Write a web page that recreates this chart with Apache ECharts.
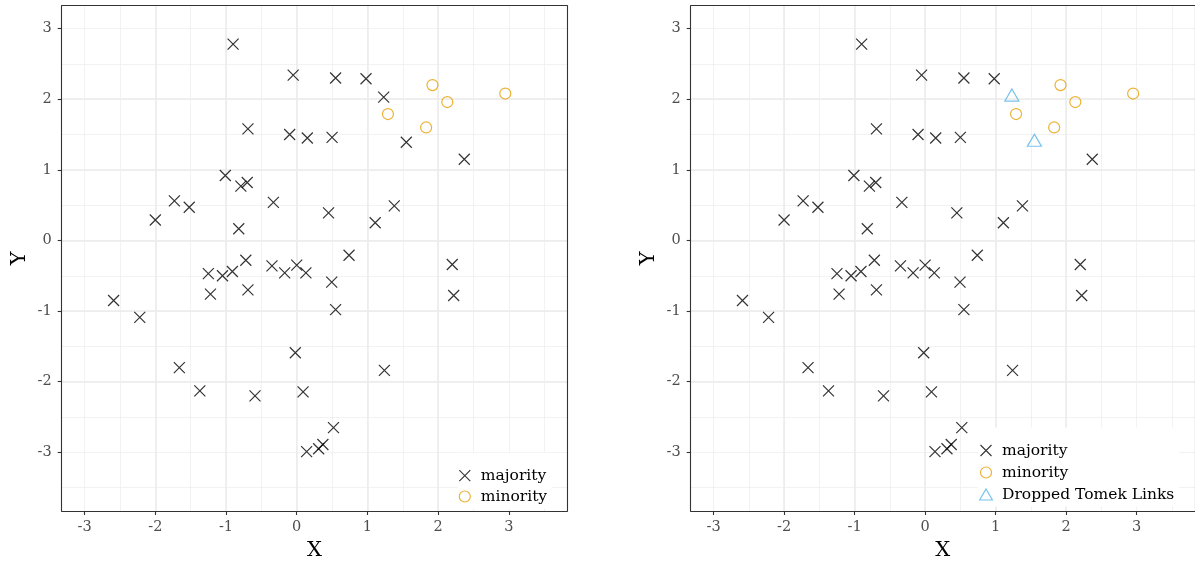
<!DOCTYPE html>
<html><head><meta charset="utf-8">
<script src="https://cdn.jsdelivr.net/npm/echarts@6/dist/echarts.min.js"></script>
<style>html,body{margin:0;padding:0;background:#fff}#c{width:1195px;height:566px}</style>
</head><body><div id="c"></div>
<script>
// ---- data ----
const majorityX = [-0.90,-0.05,0.55,0.98,1.23,-0.69,-0.10,0.15,0.50,1.55,2.37,-1.01,-0.79,-0.70,-1.73,-1.52,-2.00,-0.33,-0.82,0.45,1.11,1.38,0.74,-0.72,-0.35,-0.17,0.00,0.13,2.20,2.22,0.495,0.55,-1.25,-1.05,-0.91,-1.22,-0.69,-2.59,-2.22,-1.66,-1.37,-0.59,-0.02,0.09,1.24,0.52,0.14,0.31,0.37];
const majorityY = [2.78,2.34,2.30,2.29,2.03,1.58,1.50,1.45,1.46,1.39,1.15,0.92,0.77,0.82,0.56,0.47,0.29,0.54,0.165,0.39,0.25,0.49,-0.21,-0.28,-0.36,-0.46,-0.35,-0.46,-0.34,-0.78,-0.59,-0.98,-0.47,-0.50,-0.44,-0.76,-0.70,-0.85,-1.09,-1.80,-2.13,-2.20,-1.59,-2.145,-1.84,-2.65,-2.99,-2.95,-2.89];
const minorityX = [1.92,2.13,2.95,1.29,1.83];
const minorityY = [2.20,1.96,2.08,1.79,1.60];
const tomekX = [1.23,1.55];
const tomekY = [2.03,1.39];
const tickValues = [-3,-2,-1,0,1,2,3];
const xRange = [-3.324,3.827];
const yRange = [-3.831,3.324];
const legendLeft = ['majority','minority'];
const legendRight = ['majority','minority','Dropped Tomek Links'];

// ---- build ----
const FONT = 'DejaVu Serif';
const pairs = (xs, ys) => xs.map((x,i)=>[x, ys[i]]);
const majAll = pairs(majorityX, majorityY);
const tomek = pairs(tomekX, tomekY);
const majKept = majAll.filter(p => !tomek.some(t => t[0]===p[0] && t[1]===p[1]));
const minAll = pairs(minorityX, minorityY);

const CROSS = 'path://M0,0L10,10M0,10L10,0';
const TRI = 'path://M7,0L14,12L0,12Z';
const BORDER = {color:'#333333', width:1.1};

function xAxes(gi){
  return [
    {type:'value', gridIndex:gi, position:'top', min:xRange[0], max:xRange[1], minInterval:0.5, maxInterval:0.5, splitNumber:14,
     axisLine:{show:true, onZero:false, lineStyle:BORDER}, axisTick:{show:false}, axisLabel:{show:false},
     splitLine:{show:true, showMinLine:false, showMaxLine:false, lineStyle:{color:'#ececec', width:0.7}}},
    {type:'value', gridIndex:gi, position:'bottom', min:xRange[0], max:xRange[1], minInterval:1, maxInterval:1, splitNumber:7,
     axisLine:{show:true, onZero:false, lineStyle:BORDER},
     axisTick:{show:true, customValues:tickValues, length:4, lineStyle:BORDER},
     axisLabel:{customValues:tickValues, color:'#4d4d4d', fontFamily:FONT, fontSize:14.5, margin:9},
     splitLine:{show:true, showMinLine:false, showMaxLine:false, lineStyle:{color:'#ebebeb', width:1.5}},
     name:'X', nameLocation:'middle', nameGap:29, nameTextStyle:{fontFamily:FONT, fontSize:21, color:'#000'}}
  ];
}
function yAxes(gi){
  return [
    {type:'value', gridIndex:gi, position:'right', min:yRange[0], max:yRange[1], minInterval:0.5, maxInterval:0.5, splitNumber:14,
     axisLine:{show:true, onZero:false, lineStyle:BORDER}, axisTick:{show:false}, axisLabel:{show:false},
     splitLine:{show:true, showMinLine:false, showMaxLine:false, lineStyle:{color:'#ececec', width:0.7}}},
    {type:'value', gridIndex:gi, position:'left', min:yRange[0], max:yRange[1], minInterval:1, maxInterval:1, splitNumber:7,
     axisLine:{show:true, onZero:false, lineStyle:BORDER},
     axisTick:{show:true, customValues:tickValues, length:4, lineStyle:BORDER},
     axisLabel:{customValues:tickValues, color:'#4d4d4d', fontFamily:FONT, fontSize:14.5, margin:10},
     splitLine:{show:true, showMinLine:false, showMaxLine:false, lineStyle:{color:'#ebebeb', width:1.5}},
     name:'Y', nameLocation:'middle', nameGap:32, nameRotate:90, nameTextStyle:{fontFamily:FONT, fontSize:21, color:'#000'}}
  ];
}

const majStyle = {color:'rgba(0,0,0,0)', borderColor:'#000000', borderWidth:1.2};
const minStyle = {color:'rgba(0,0,0,0)', borderColor:'#E69F00', borderWidth:1.2};
const tomStyle = {color:'rgba(0,0,0,0)', borderColor:'#56B4E9', borderWidth:1.2};
const legendStyles = {
  'majority': {icon:CROSS, itemStyle:{color:'rgba(0,0,0,0)', borderColor:'#000000', borderWidth:1.1}},
  'minority': {icon:'circle', itemStyle:{color:'rgba(0,0,0,0)', borderColor:'#E69F00', borderWidth:1.2}},
  'Dropped Tomek Links': {icon:TRI, itemStyle:{color:'rgba(0,0,0,0)', borderColor:'#56B4E9', borderWidth:1.2}}
};

function mkLegend(names, left, top, gap){
  return {
    data: names.map(n => Object.assign({name:n}, legendStyles[n])),
    orient:'vertical', left:left, top:top, padding:[15,5,4,1],
    itemWidth:22, itemHeight:11, itemGap:gap, selectedMode:false, symbolKeepAspect:true,
    backgroundColor:'#ffffff',
    textStyle:{fontFamily:FONT, fontSize:15.5, lineHeight:16, color:'#000'}
  };
}

const option = {
  animation:false,
  backgroundColor:'#ffffff',
  grid:[
    {left:61.7, top:5.7, width:505.6, height:508, show:false},
    {left:690.7, top:5.7, width:505.6, height:508, show:false}
  ],
  xAxis:[...xAxes(0), ...xAxes(1)],
  yAxis:[...yAxes(0), ...yAxes(1)],
  legend:[mkLegend(legendLeft, 457.7, 452.7, 4.8), mkLegend(legendRight, 978, 427.5, 6)],
  series:[
    {type:'scatter', name:'majority', xAxisIndex:1, yAxisIndex:1, data:majAll, symbol:CROSS, symbolSize:11, symbolKeepAspect:true, itemStyle:majStyle, silent:true},
    {type:'scatter', name:'minority', xAxisIndex:1, yAxisIndex:1, data:minAll, symbol:'circle', symbolSize:11, itemStyle:minStyle, silent:true},
    {type:'scatter', name:'majority', xAxisIndex:3, yAxisIndex:3, data:majKept, symbol:CROSS, symbolSize:11, symbolKeepAspect:true, itemStyle:majStyle, silent:true},
    {type:'scatter', name:'minority', xAxisIndex:3, yAxisIndex:3, data:minAll, symbol:'circle', symbolSize:11, itemStyle:minStyle, silent:true},
    {type:'scatter', name:'Dropped Tomek Links', xAxisIndex:3, yAxisIndex:3, data:tomek, symbol:'triangle', symbolSize:[14,12], symbolOffset:[0,-2], itemStyle:tomStyle, silent:true}
  ]
};
const chart = echarts.init(document.getElementById('c'), null, {renderer:'canvas'});
chart.setOption(option);
</script>
</body></html>
